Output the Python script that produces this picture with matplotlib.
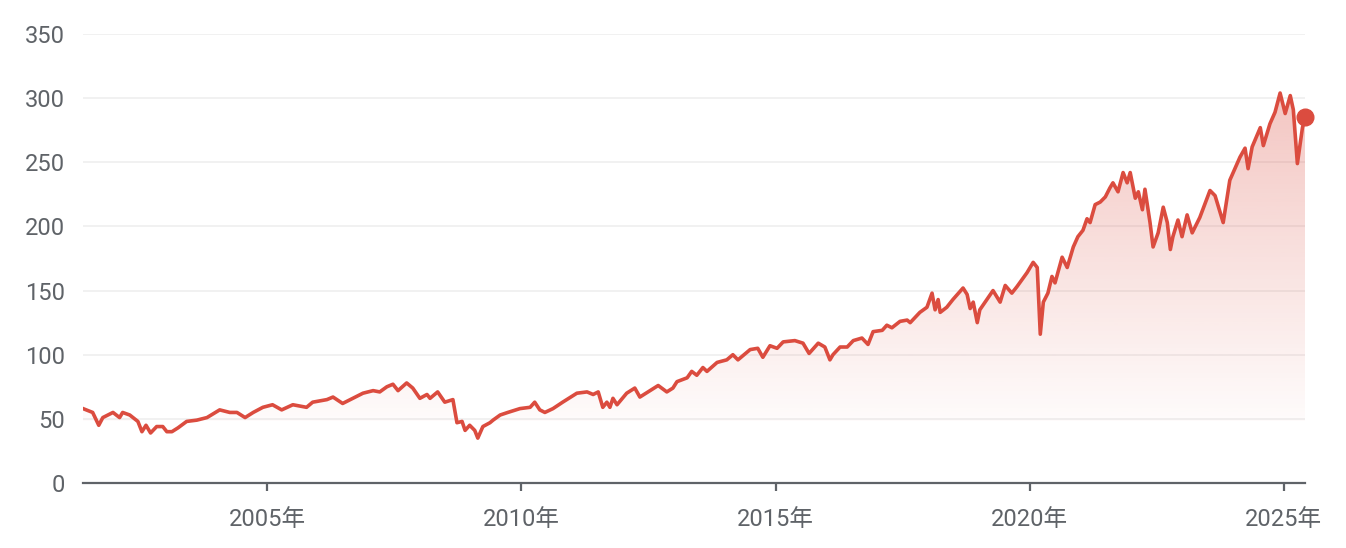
import numpy as np
import matplotlib.pyplot as plt
from matplotlib.patches import Polygon

# price trace (decimal year, value)
years = [2001.37, 2001.56, 2001.68, 2001.76, 2001.96, 2002.09, 2002.15, 2002.29, 2002.45, 2002.53,
         2002.61, 2002.70, 2002.82, 2002.94, 2003.02, 2003.12, 2003.24, 2003.41, 2003.61, 2003.81,
         2004.06, 2004.26, 2004.40, 2004.56, 2004.72, 2004.91, 2005.10, 2005.28, 2005.50, 2005.77,
         2005.89, 2006.17, 2006.29, 2006.48, 2006.68, 2006.88, 2007.08, 2007.21, 2007.35, 2007.47,
         2007.57, 2007.74, 2007.86, 2008.00, 2008.14, 2008.20, 2008.35, 2008.49, 2008.65, 2008.73,
         2008.83, 2008.89, 2008.98, 2009.08, 2009.14, 2009.24, 2009.38, 2009.44, 2009.58, 2009.73,
         2009.97, 2010.17, 2010.26, 2010.36, 2010.46, 2010.62, 2010.81, 2011.09, 2011.29, 2011.41,
         2011.51, 2011.60, 2011.68, 2011.74, 2011.80, 2011.88, 2012.07, 2012.23, 2012.33, 2012.53,
         2012.69, 2012.86, 2012.98, 2013.06, 2013.26, 2013.35, 2013.45, 2013.57, 2013.65, 2013.85,
         2014.04, 2014.16, 2014.26, 2014.50, 2014.65, 2014.75, 2014.89, 2015.03, 2015.15, 2015.38,
         2015.54, 2015.66, 2015.84, 2015.97, 2016.07, 2016.13, 2016.27, 2016.41, 2016.53, 2016.70,
         2016.82, 2016.92, 2017.10, 2017.19, 2017.29, 2017.45, 2017.59, 2017.65, 2017.84, 2017.98,
         2018.08, 2018.14, 2018.20, 2018.24, 2018.37, 2018.49, 2018.69, 2018.77, 2018.83, 2018.89,
         2018.97, 2019.02, 2019.16, 2019.28, 2019.42, 2019.52, 2019.65, 2019.75, 2019.95, 2020.01,
         2020.07, 2020.15, 2020.21, 2020.27, 2020.36, 2020.44, 2020.50, 2020.64, 2020.74, 2020.80,
         2020.86, 2020.95, 2021.05, 2021.13, 2021.19, 2021.29, 2021.39, 2021.49, 2021.58, 2021.64,
         2021.74, 2021.84, 2021.92, 2021.98, 2022.08, 2022.14, 2022.22, 2022.27, 2022.37, 2022.43,
         2022.53, 2022.63, 2022.71, 2022.77, 2022.82, 2022.92, 2023.00, 2023.10, 2023.20, 2023.35,
         2023.55, 2023.65, 2023.81, 2023.94, 2024.14, 2024.24, 2024.30, 2024.38, 2024.54, 2024.60,
         2024.73, 2024.83, 2024.93, 2025.03, 2025.13, 2025.19, 2025.27, 2025.37, 2025.42]
prices = [58, 55, 45, 51, 55, 51, 55, 53, 48, 40,
          45, 39, 44, 44, 40, 40, 43, 48, 49, 51,
          57, 55, 55, 51, 55, 59, 61, 57, 61, 59,
          63, 65, 67, 62, 66, 70, 72, 71, 75, 77,
          72, 78, 74, 66, 69, 66, 71, 63, 65, 47,
          48, 41, 45, 41, 35, 44, 47, 49, 53, 55,
          58, 59, 63, 57, 55, 58, 63, 70, 71, 69,
          71, 59, 63, 59, 66, 61, 70, 74, 67, 72,
          76, 71, 74, 79, 82, 87, 84, 90, 87, 94,
          96, 100, 96, 104, 105, 98, 107, 105, 110, 111,
          109, 101, 109, 106, 96, 100, 106, 106, 111, 113,
          108, 118, 119, 123, 121, 126, 127, 125, 133, 137,
          148, 135, 143, 133, 137, 143, 152, 147, 136, 141,
          125, 135, 143, 150, 141, 154, 148, 153, 164, 168,
          172, 168, 116, 141, 148, 161, 156, 176, 168, 176,
          184, 192, 197, 206, 203, 217, 219, 223, 230, 234,
          227, 242, 234, 242, 222, 227, 213, 229, 203, 184,
          195, 215, 203, 182, 192, 205, 192, 209, 195, 207,
          228, 224, 203, 236, 254, 261, 245, 262, 277, 263,
          280, 289, 304, 288, 302, 291, 249, 277, 285]

y_ticks = [0, 50, 100, 150, 200, 250, 300, 350]
x_ticks = [2005, 2010, 2015, 2020, 2025]
x_labels = ["2005年", "2010年", "2015年", "2020年", "2025年"]

RED = "#db4c3f"
GRAY = "#5f6368"

plt.rcParams['font.family'] = ['Roboto', 'Noto Sans CJK JP', 'DejaVu Sans']

fig = plt.figure(figsize=(13.46, 5.48), dpi=100)
ax = fig.add_axes([83 / 1346, 65 / 548, 1222 / 1346, 449 / 548])

x0, x1 = 2001.37, 2025.42
ax.set_xlim(x0, x1)
ax.set_ylim(0, 350)

# gradient fill under the line: fades out around the 50 level
fade_lo, fade_hi = 48, 305
grad = np.linspace(0, 1, 256)
rgba = np.zeros((256, 1, 4))
rgba[..., 0], rgba[..., 1], rgba[..., 2] = 219 / 255, 76 / 255, 63 / 255
rgba[:, 0, 3] = 0.02 + grad * 0.30
img = ax.imshow(rgba, extent=[x0, x1, fade_lo, fade_hi], origin='lower', aspect='auto', zorder=1)
verts = [(years[0], 0)] + list(zip(years, prices)) + [(years[-1], 0)]
poly = Polygon(verts, closed=True, facecolor='none', edgecolor='none')
ax.add_patch(poly)
img.set_clip_path(poly)

ax.plot(years, prices, color=RED, lw=2.6, solid_joinstyle='round', zorder=3)
ax.plot(years[-1], prices[-1], 'o', color=RED, ms=12, zorder=4, clip_on=False)

for v in y_ticks[1:]:
    ax.axhline(v, color="#efefef", lw=1.2, zorder=0)

for s in ['top', 'right', 'left']:
    ax.spines[s].set_visible(False)
ax.spines['bottom'].set_color(GRAY)
ax.spines['bottom'].set_linewidth(1.6)

ax.set_yticks(y_ticks)
ax.set_yticklabels([str(v) for v in y_ticks])
ax.set_xticks(x_ticks)
ax.set_xticklabels(x_labels)
ax.tick_params(axis='y', length=0, pad=13, labelsize=17, labelcolor=GRAY)
ax.tick_params(axis='x', length=6, width=1.6, color=GRAY, pad=12, labelsize=17, labelcolor=GRAY)

fig.savefig("out.png", dpi=100)
